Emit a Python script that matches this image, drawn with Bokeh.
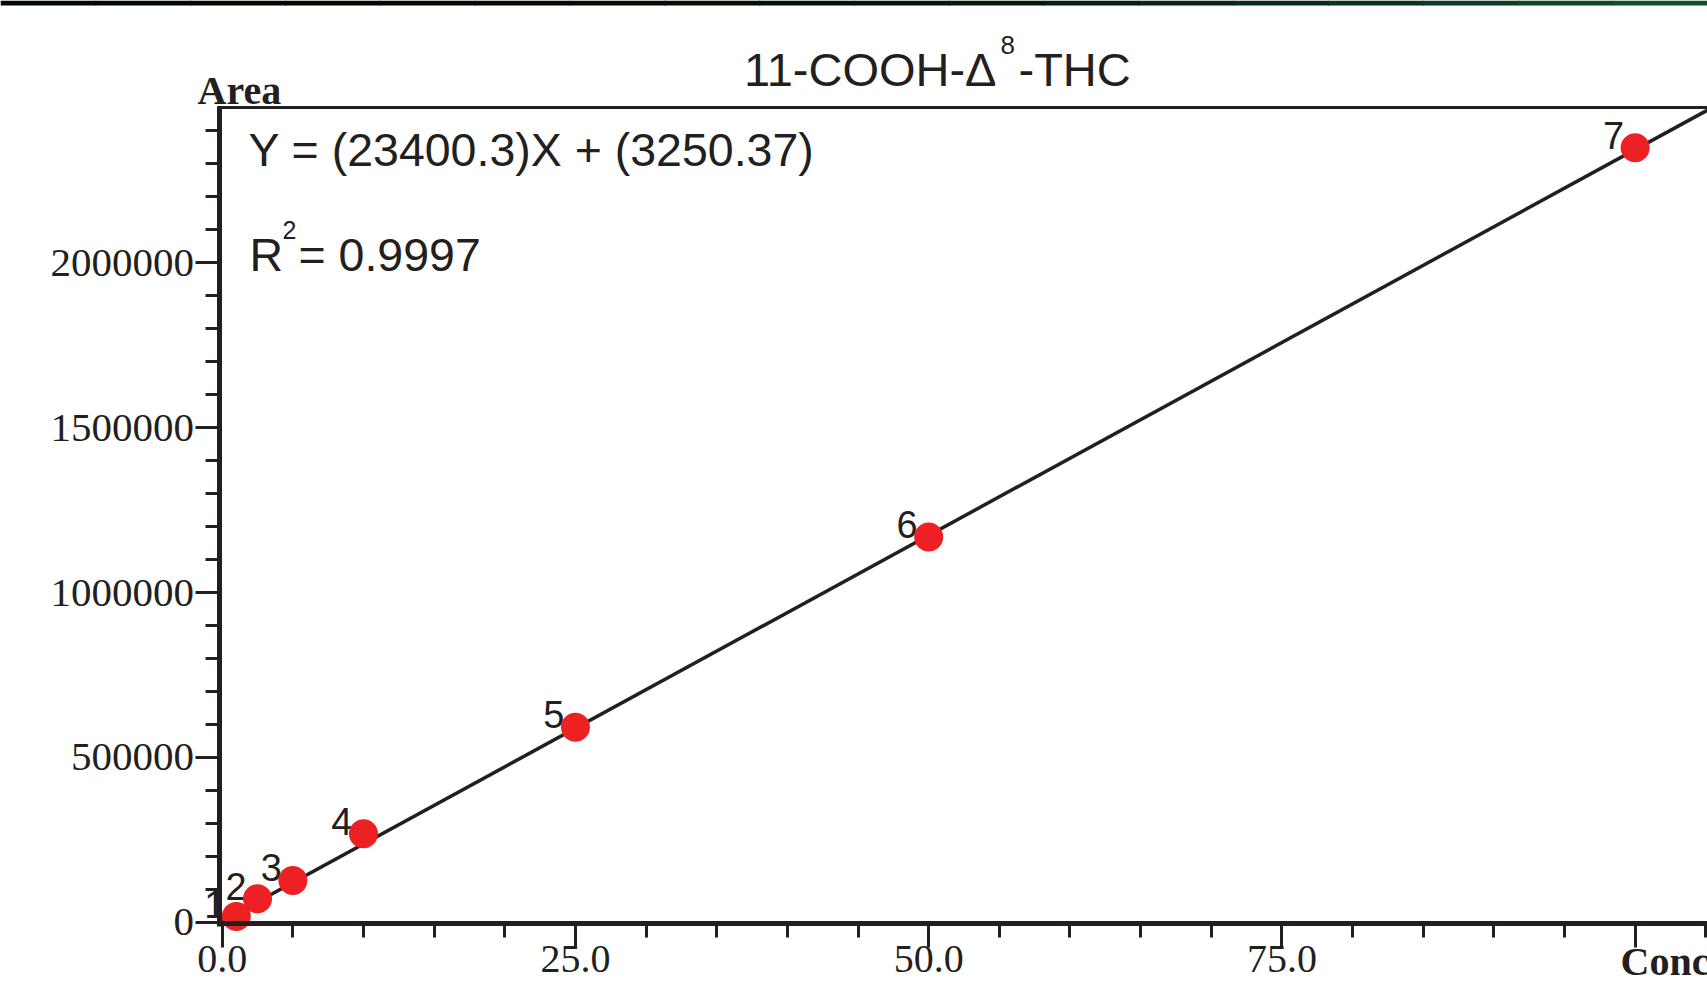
from bokeh.plotting import figure
from bokeh.models import Range1d, FixedTicker, LabelSet, ColumnDataSource, BoxAnnotation
from bokeh.core.properties import value
from bokeh.embed import file_html
from bokeh.resources import INLINE

# ---- data ----
conc = [1, 2.5, 5, 10, 25, 50, 100]
area = [17000, 71000, 126500, 268000, 591500, 1168000, 2349000]
point_labels = ["1", "2", "3", "4", "5", "6", "7"]

slope = 23400.3
intercept = 3250.37
r2_text = "0.9997"

x_major = [0, 25, 50, 75, 100]
x_tick_labels = ["0.0", "25.0", "50.0", "75.0", ""]
x_minor = [0, 5, 10, 15, 20, 25, 30, 35, 40, 45, 50, 55, 60, 65, 70, 75, 80, 85, 90, 95, 100, 105]
y_major = [0, 500000, 1000000, 1500000, 2000000]
y_tick_labels = ["0", "500000", "1000000", "1500000", "2000000"]
y_minor = [0, 100000, 200000, 300000, 400000, 500000, 600000, 700000, 800000, 900000,
           1000000, 1100000, 1200000, 1300000, 1400000, 1500000, 1600000, 1700000,
           1800000, 1900000, 2000000, 2100000, 2200000, 2300000, 2400000]

title_main = "11-COOH-\u0394"
title_sup = "8"
title_end = "-THC"
x_title = "Conc."
y_title = "Area"

INK = "#231f20"
RED = "#ed2024"
SANS = "Liberation Sans"
SERIF = "Liberation Serif"

W, H = 1707, 982
# ranges: the plotting frame covers the whole canvas, axes are pinned inside it
x_start, x_end = -15.69, 105.12
y_start, y_end = -182900, 2795600
frame_x_left = -0.156      # where the left frame line (y axis) sits
frame_y_bottom = -5460     # where the bottom frame line (x axis) sits
frame_y_top = 2471000      # top frame line

p = figure(width=W, height=H, output_backend="svg", toolbar_location=None,
           x_range=Range1d(x_start, x_end), y_range=Range1d(y_start, y_end),
           min_border=0, min_border_left=0, min_border_right=0,
           min_border_top=0, min_border_bottom=0)
p.background_fill_color = "white"
p.border_fill_color = "white"
p.outline_line_color = None
p.grid.visible = False

# y axis
ya = p.yaxis[0]
ya.fixed_location = frame_x_left
ya.bounds = (-13000, 2474000)
ya.ticker = FixedTicker(ticks=y_major, minor_ticks=y_minor)
ya.major_label_overrides = {v: t for v, t in zip(y_major, y_tick_labels)}
ya.axis_line_width = 5
ya.axis_line_color = INK
ya.major_tick_line_width = 3
ya.minor_tick_line_width = 3
ya.major_tick_line_color = INK
ya.minor_tick_line_color = INK
ya.major_tick_in = 0
ya.minor_tick_in = 0
ya.major_tick_out = 24
ya.minor_tick_out = 14
ya.major_label_standoff = 2
ya.major_label_text_font = SERIF
ya.major_label_text_font_size = "41px"
ya.major_label_text_color = INK

# x axis
xa = p.xaxis[0]
xa.fixed_location = frame_y_bottom
xa.bounds = (-0.33, x_end)
xa.ticker = FixedTicker(ticks=x_major, minor_ticks=x_minor)
xa.major_label_overrides = {v: t for v, t in zip(x_major, x_tick_labels)}
xa.axis_line_width = 5
xa.axis_line_color = INK
xa.major_tick_line_width = 3
xa.minor_tick_line_width = 3
xa.major_tick_line_color = INK
xa.minor_tick_line_color = INK
xa.major_tick_in = 0
xa.minor_tick_in = 0
xa.major_tick_out = 24
xa.minor_tick_out = 14
xa.major_label_standoff = -2
xa.major_label_text_font = SERIF
xa.major_label_text_font_size = "40px"
xa.major_label_text_color = INK

# top frame line
p.line([-0.33, x_end], [frame_y_top, frame_y_top], line_width=3, line_color=INK)

# dark green band at the very top of the page
band_cols = ["#000600", "#000700", "#000800", "#000900", "#000a01", "#000b02", "#010d03",
             "#010f04", "#021206", "#031508", "#04190b", "#061e0e", "#082412", "#0a2b17",
             "#0c331c", "#0e3c21", "#104526", "#124e2b"]
n = len(band_cols)
for i, c in enumerate(band_cols):
    p.add_layout(BoxAnnotation(left=W * i / n, right=W * (i + 1) / n + 1, top=H, bottom=H - 5,
                               left_units="screen", right_units="screen",
                               top_units="screen", bottom_units="screen",
                               fill_color=c, fill_alpha=1, line_color=None))

# point labels (under the points)
pt_src = ColumnDataSource(dict(x=conc, y=area, t=point_labels))
p.add_layout(LabelSet(x="x", y="y", text="t", source=pt_src, x_offset=-11, y_offset=-1,
                      text_align="right", text_baseline="alphabetic",
                      text_font=value(SANS), text_font_size="38px", text_color=INK,
                      level="underlay"))

# regression line
fit_x = [0, x_end]
fit_y = [slope * v + intercept for v in fit_x]
p.line(fit_x, fit_y, line_width=3.5, line_color=INK)

# calibration points
p.scatter(conc, area, size=29, fill_color=RED, line_color=None)


def lab(text, x, y, size, font=SANS, align="left", bold=False, color=INK):
    src = ColumnDataSource(dict(x=[x], y=[y], t=[text]))
    p.add_layout(LabelSet(x="x", y="y", text="t", source=src,
                          x_units="screen", y_units="screen",
                          text_font=value(font), text_font_size=size, text_align=align,
                          text_baseline="alphabetic", text_color=color,
                          text_font_style="bold" if bold else "normal"))


lab(title_main, 996, 897, "47px", align="right")
lab(title_sup, 1000, 929, "26px")
lab(title_end, 1018, 897, "47px")
lab(y_title, 197, 879, "40px", font=SERIF, bold=True)
lab(x_title, 1620, 8, "40px", font=SERIF, bold=True)
lab("Y = (%s)X + (%s)" % (slope, intercept), 248, 817, "46.5px")
lab("R", 249, 712, "46.5px")
lab("2", 282, 744, "25px")
lab("= " + r2_text, 298, 712, "46.5px")

open("out.html", "w").write(file_html(p, INLINE))
